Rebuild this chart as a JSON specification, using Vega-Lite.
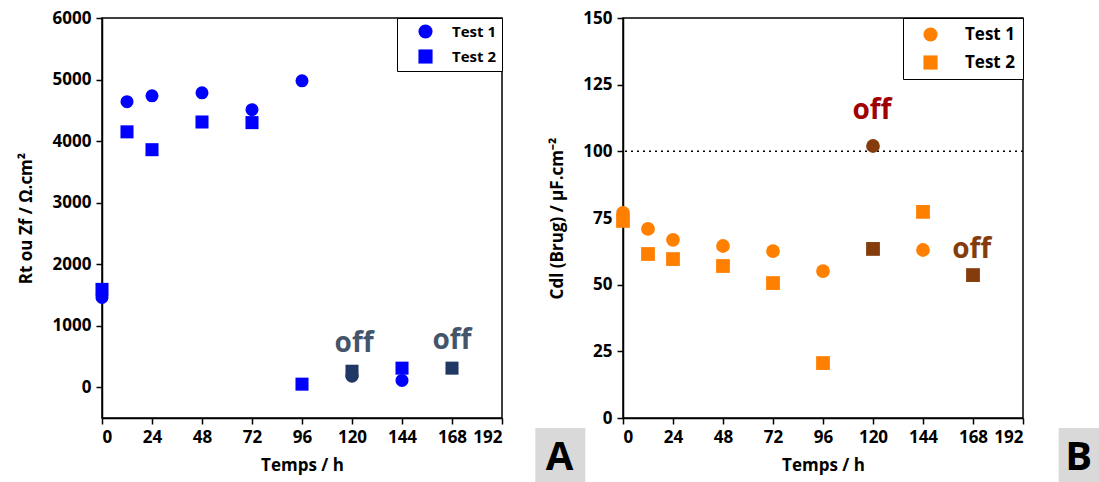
{
  "$schema": "https://vega.github.io/schema/vega-lite/v6.json",
  "autosize": "none",
  "padding": {"left": 102, "top": 18, "right": 76, "bottom": 64},
  "params": [{"name": "width", "value": 921}, {"name": "height", "value": 400}],
  "background": "white",
  "spacing": 121,
  "bounds": "flush",
  "config": {
    "view": {"stroke": "black", "strokeWidth": 1.5},
    "font": "Open Sans",
    "axis": {
      "domainColor": "black", "domainWidth": 1.5, "tickColor": "black", "tickWidth": 1.5,
      "labelFont": "Open Sans", "labelFontWeight": "bold", "labelFontSize": 17, "labelColor": "black",
      "titleFont": "Open Sans", "titleFontWeight": "bold", "titleFontSize": 17, "titleColor": "black",
      "grid": false, "labelPadding": 5, "labelOverlap": false
    }
  },
  "hconcat": [
    {
      "width": 400, "height": 400,
      "layer": [
        {
          "data": {"values": [
            {"t": 0, "v": 1460, "test": "Test 1", "col": "#0000FF"},
            {"t": 12, "v": 4640, "test": "Test 1", "col": "#0000FF"},
            {"t": 24, "v": 4735, "test": "Test 1", "col": "#0000FF"},
            {"t": 48, "v": 4785, "test": "Test 1", "col": "#0000FF"},
            {"t": 72, "v": 4510, "test": "Test 1", "col": "#0000FF"},
            {"t": 96, "v": 4980, "test": "Test 1", "col": "#0000FF"},
            {"t": 120, "v": 180, "test": "Test 1", "col": "#203864"},
            {"t": 144, "v": 110, "test": "Test 1", "col": "#0000FF"},
            {"t": 0, "v": 1590, "test": "Test 2", "col": "#0000FF"},
            {"t": 12, "v": 4150, "test": "Test 2", "col": "#0000FF"},
            {"t": 24, "v": 3860, "test": "Test 2", "col": "#0000FF"},
            {"t": 48, "v": 4310, "test": "Test 2", "col": "#0000FF"},
            {"t": 72, "v": 4300, "test": "Test 2", "col": "#0000FF"},
            {"t": 96, "v": 50, "test": "Test 2", "col": "#0000FF"},
            {"t": 120, "v": 260, "test": "Test 2", "col": "#203864"},
            {"t": 144, "v": 310, "test": "Test 2", "col": "#0000FF"},
            {"t": 168, "v": 310, "test": "Test 2", "col": "#203864"}
          ]},
          "mark": {"type": "point", "filled": true, "opacity": 1, "size": 170, "color": "#0000FF"},
          "encoding": {
            "x": {"field": "t", "type": "quantitative",
              "scale": {"domain": [0, 192], "nice": false, "zero": false},
              "axis": {"title": "Temps / h", "values": [0,12,24,36,48,60,72,84,96,108,120,132,144,156,168,180,192],
                "labelExpr": "datum.value % 24 === 0 ? datum.label : ''", "format": "d",
                "tickSize": {"condition": {"test": "datum.value % 24 === 0", "value": 6}, "value": 3},
                "titlePadding": 12}},
            "y": {"field": "v", "type": "quantitative",
              "scale": {"domain": [-500, 6000], "nice": false, "zero": false},
              "axis": {"title": "Rt ou Zf / Ω.cm²", "format": "d",
                "values": [0,500,1000,1500,2000,2500,3000,3500,4000,4500,5000,5500,6000],
                "labelExpr": "datum.value % 1000 === 0 ? datum.label : ''",
                "tickSize": {"condition": {"test": "datum.value % 1000 === 0", "value": 6}, "value": 3},
                "titlePadding": 17}},
            "shape": {"field": "test", "type": "nominal",
              "scale": {"domain": ["Test 1", "Test 2"], "range": ["circle", "square"]},
              "legend": {"title": null, "orient": "top-right", "offset": 0, "strokeColor": "black", "fillColor": "white",
                "padding": 6, "symbolOffset": 15, "labelOffset": 19, "rowPadding": 9, "symbolSize": 200,
                "symbolFillColor": "#0000FF", "symbolStrokeColor": "#0000FF", "symbolStrokeWidth": 0,
                "labelFont": "Open Sans", "labelFontWeight": "bold", "labelFontSize": 15, "labelColor": "black"}},
            "color": {"field": "col", "type": "nominal", "scale": null, "legend": null}
          }
        },
        {
          "data": {"values": [
            {"t": 121, "v": 569, "label": "off"},
            {"t": 168, "v": 617, "label": "off"}
          ]},
          "mark": {"type": "text", "font": "Open Sans", "fontWeight": "bold", "fontSize": 28, "color": "#44546A", "baseline": "alphabetic", "align": "center"},
          "encoding": {
            "x": {"field": "t", "type": "quantitative"},
            "y": {"field": "v", "type": "quantitative"},
            "text": {"field": "label"}
          }
        },
        {
          "data": {"values": [{"x1": 208, "x2": 232, "y1": -662, "y2": -1600}]},
          "mark": {"type": "rect", "color": "#D9D9D9", "clip": false},
          "encoding": {
            "x": {"field": "x1", "type": "quantitative"},
            "x2": {"field": "x2"},
            "y": {"field": "y1", "type": "quantitative"},
            "y2": {"field": "y2"}
          }
        },
        {
          "data": {"values": [{"t": 219.6, "v": -1150, "label": "A"}]},
          "mark": {"type": "text", "font": "Open Sans", "fontWeight": "bold", "fontSize": 40, "color": "black", "baseline": "middle", "align": "center", "clip": false},
          "encoding": {
            "x": {"field": "t", "type": "quantitative"},
            "y": {"field": "v", "type": "quantitative"},
            "text": {"field": "label"}
          }
        }
      ]
    },
    {
      "width": 400, "height": 400,
      "layer": [
        {
          "data": {"values": [{"y": 100}]},
          "mark": {"type": "rule", "color": "black", "strokeDash": [2, 4], "strokeWidth": 1.5},
          "encoding": {"y": {"field": "y", "type": "quantitative"}}
        },
        {
          "data": {"values": [
            {"t": 0, "v": 76.9, "test": "Test 1", "col": "#FF8000"},
            {"t": 12, "v": 70.9, "test": "Test 1", "col": "#FF8000"},
            {"t": 24, "v": 66.8, "test": "Test 1", "col": "#FF8000"},
            {"t": 48, "v": 64.5, "test": "Test 1", "col": "#FF8000"},
            {"t": 72, "v": 62.6, "test": "Test 1", "col": "#FF8000"},
            {"t": 96, "v": 55.1, "test": "Test 1", "col": "#FF8000"},
            {"t": 120, "v": 102, "test": "Test 1", "col": "#843C0C"},
            {"t": 144, "v": 63, "test": "Test 1", "col": "#FF8000"},
            {"t": 0, "v": 73.9, "test": "Test 2", "col": "#FF8000"},
            {"t": 12, "v": 61.5, "test": "Test 2", "col": "#FF8000"},
            {"t": 24, "v": 59.6, "test": "Test 2", "col": "#FF8000"},
            {"t": 48, "v": 57, "test": "Test 2", "col": "#FF8000"},
            {"t": 72, "v": 50.6, "test": "Test 2", "col": "#FF8000"},
            {"t": 96, "v": 20.6, "test": "Test 2", "col": "#FF8000"},
            {"t": 120, "v": 63.4, "test": "Test 2", "col": "#843C0C"},
            {"t": 144, "v": 77.3, "test": "Test 2", "col": "#FF8000"},
            {"t": 168, "v": 53.6, "test": "Test 2", "col": "#843C0C"}
          ]},
          "mark": {"type": "point", "filled": true, "opacity": 1, "size": 190, "color": "#FF8000"},
          "encoding": {
            "x": {"field": "t", "type": "quantitative",
              "scale": {"domain": [0, 192], "nice": false, "zero": false},
              "axis": {"title": "Temps / h", "values": [0,12,24,36,48,60,72,84,96,108,120,132,144,156,168,180,192],
                "labelExpr": "datum.value % 24 === 0 ? datum.label : ''", "format": "d",
                "tickSize": {"condition": {"test": "datum.value % 24 === 0", "value": 6}, "value": 3},
                "titlePadding": 12}},
            "y": {"field": "v", "type": "quantitative",
              "scale": {"domain": [0, 150], "nice": false, "zero": false},
              "axis": {"title": "Cdl (Brug) / µF.cm⁻²", "format": "d",
                "values": [0,12.5,25,37.5,50,62.5,75,87.5,100,112.5,125,137.5,150],
                "labelExpr": "datum.value % 25 === 0 ? datum.label : ''",
                "tickSize": {"condition": {"test": "datum.value % 25 === 0", "value": 6}, "value": 3},
                "titlePadding": 16}},
            "shape": {"field": "test", "type": "nominal",
              "scale": {"domain": ["Test 1", "Test 2"], "range": ["circle", "square"]},
              "legend": {"title": null, "orient": "top-right", "offset": 0, "strokeColor": "black", "fillColor": "white",
                "padding": 8, "symbolOffset": 11, "labelOffset": 26, "rowPadding": 10, "symbolSize": 200,
                "symbolFillColor": "#FF8000", "symbolStrokeColor": "#FF8000", "symbolStrokeWidth": 0,
                "labelFont": "Open Sans", "labelFontWeight": "bold", "labelFontSize": 17, "labelColor": "black"}},
            "color": {"field": "col", "type": "nominal", "scale": null, "legend": null}
          }
        },
        {
          "data": {"values": [
            {"t": 119.5, "v": 112, "label": "off", "col": "#A00000"},
            {"t": 167.4, "v": 60, "label": "off", "col": "#843C0C"}
          ]},
          "mark": {"type": "text", "font": "Open Sans", "fontWeight": "bold", "fontSize": 28, "baseline": "alphabetic", "align": "center"},
          "encoding": {
            "x": {"field": "t", "type": "quantitative"},
            "y": {"field": "v", "type": "quantitative"},
            "text": {"field": "label"},
            "color": {"field": "col", "type": "nominal", "scale": null, "legend": null}
          }
        },
        {
          "data": {"values": [{"x1": 209.1, "x2": 240, "y1": -3.75, "y2": -30}]},
          "mark": {"type": "rect", "color": "#D9D9D9", "clip": false},
          "encoding": {
            "x": {"field": "x1", "type": "quantitative"},
            "x2": {"field": "x2"},
            "y": {"field": "y1", "type": "quantitative"},
            "y2": {"field": "y2"}
          }
        },
        {
          "data": {"values": [{"t": 218.7, "v": -15, "label": "B"}]},
          "mark": {"type": "text", "font": "Open Sans", "fontWeight": "bold", "fontSize": 40, "color": "black", "baseline": "middle", "align": "center", "clip": false},
          "encoding": {
            "x": {"field": "t", "type": "quantitative"},
            "y": {"field": "v", "type": "quantitative"},
            "text": {"field": "label"}
          }
        }
      ],
      "resolve": {"scale": {"color": "independent"}}
    }
  ],
  "resolve": {"scale": {"shape": "independent", "color": "independent"}, "legend": {"shape": "independent"}}
}
